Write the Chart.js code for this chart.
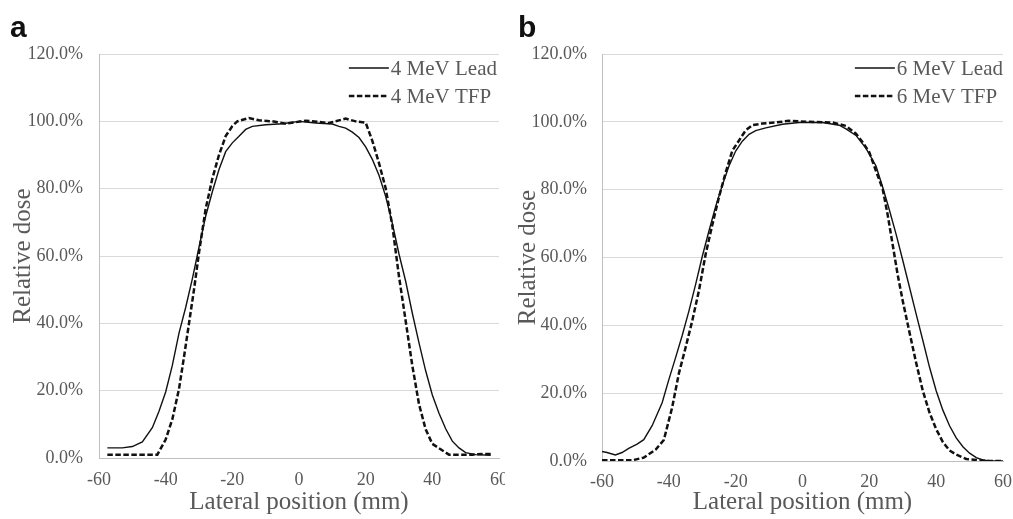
<!DOCTYPE html>
<html>
<head>
<meta charset="utf-8">
<title>Lateral dose profiles</title>
<script src="https://cdn.jsdelivr.net/npm/chart.js@4.4.0/dist/chart.umd.min.js"></script>
<style>
  body { margin: 0; background: #fff; width: 1013px; height: 519px; overflow: hidden; position: relative; }
  #panel_a { position: absolute; left: 0; top: 0; width: 519px; height: 519px; }
  #panel_b { position: absolute; left: 505px; top: 0; width: 517px; height: 519px; background: #fff; z-index: 1; }
</style>
</head>
<body>
<div id="panel_a"><canvas id="chart_a" width="519" height="519"></canvas></div>
<div id="panel_b"><canvas id="chart_b" width="517" height="519"></canvas></div>

<script>
// values (x in mm, y in % of max dose)
const xTicks = [-60, -40, -20, 0, 20, 40, 60];
const yTicks = [0, 20, 40, 60, 80, 100, 120];

const lead4X = [-57.5, -53, -50, -47, -44, -42, -40, -38, -36, -34, -32, -30, -28, -26, -24, -22, -20, -18, -16, -14, -10, -5, 0, 5, 10, 12, 14, 16, 18, 20, 22, 24, 26, 28, 30, 32, 34, 36, 38, 40, 42, 44, 46, 48, 50, 53, 57.5];
const lead4Y = [3.0, 3.0, 3.4, 4.8, 9.0, 13.9, 19.6, 27.5, 37.1, 44.7, 53.2, 62.6, 71.8, 79.1, 85.7, 91.0, 93.6, 95.6, 97.6, 98.5, 99.0, 99.3, 100, 99.5, 99.2, 98.5, 98.0, 96.8, 95.2, 92.4, 88.7, 84.0, 77.7, 69.7, 60.6, 52.5, 43.0, 34.2, 25.9, 18.7, 13.3, 8.7, 5.0, 3.0, 1.6, 1.0, 0.8];

const tfp4X = [-57.5, -42.5, -40, -38, -36, -34.5, -33, -31.5, -30, -28, -26, -24, -22, -20, -18.5, -15, -12, -8, -4, 2, 9, 14, 17, 20, 22, 24, 26, 28, 30, 32, 34, 36, 38, 40, 42, 45, 52, 55, 57.5];
const tfp4Y = [1.0, 1.0, 5.5, 11.5, 20.5, 30.0, 40.0, 50.0, 61.0, 74.0, 83.0, 90.0, 95.6, 98.6, 100, 101, 100.3, 100, 99.3, 100.2, 99.5, 100.8, 100, 99.6, 94.2, 87.6, 80.1, 69.0, 53.9, 40.7, 27.4, 16.0, 8.5, 4.2, 2.9, 1.0, 1.0, 1.2, 1.2];

const lead6X = [-60, -58.5, -56, -54, -52, -49.5, -47.5, -45, -42, -40, -38, -36, -34, -32, -30, -28, -26, -24, -22, -20, -18, -16, -14, -11, -6, -1, 6, 11, 13, 16, 19, 22, 24, 26, 28, 30, 32, 34, 36, 38, 40, 42, 44, 46, 48, 50, 52, 54, 56, 60];
const lead6Y = [2.8, 2.5, 1.8, 2.5, 3.7, 5.0, 6.3, 10.4, 17.2, 24.0, 30.4, 37.0, 44.2, 52.0, 60.3, 67.8, 75.0, 81.3, 87.0, 91.4, 94.3, 96.3, 97.4, 98.2, 99.3, 99.8, 99.8, 99.0, 97.9, 96.0, 92.2, 87.0, 80.7, 74.0, 66.9, 59.2, 51.3, 43.4, 35.6, 27.7, 20.7, 15.0, 10.4, 6.8, 4.2, 2.3, 1.0, 0.3, 0, 0];

const tfp6X = [-60, -51, -47.5, -44, -41.5, -39, -37, -35, -33, -31, -29, -27, -25, -23, -21, -19, -17, -15, -12, -8, -4, 2, 9, 13, 16, 18, 20, 22, 24, 25.5, 27, 28.5, 30, 32, 34, 36, 38, 40, 42, 44, 46, 49, 53, 56, 60];
const tfp6Y = [0.2, 0.2, 1.0, 3.3, 6.2, 15.8, 25.8, 33.4, 41.3, 50.2, 60.9, 69.6, 77.8, 85.0, 91.5, 94.5, 97.5, 99.0, 99.5, 99.8, 100.3, 100, 99.8, 98.8, 96.5, 94.0, 91.0, 85.5, 80.2, 72.5, 63.7, 54.8, 47.2, 38.0, 29.0, 20.7, 14.3, 9.4, 5.6, 3.1, 1.9, 0.6, 0.2, 0, 0];

const serif = '"Liberation Serif", "Times New Roman", serif';
const textGray = '#595959';

function toPoints(xs, ys) {
  return xs.map((x, i) => ({ x: x, y: ys[i] }));
}

// legend in the top right corner of the plot, like the excel one
const cornerLegend = {
  id: 'cornerLegend',
  afterDatasetsDraw(chart, args, opts) {
    const { ctx, chartArea } = chart;
    ctx.save();
    ctx.font = '21px ' + serif;
    const sets = chart.data.datasets;
    const maxW = Math.max(...sets.map(d => ctx.measureText(d.label).width));
    const textX = chartArea.right - opts.rightGap - maxW;
    sets.forEach((d, i) => {
      const y = chartArea.top + 14 + i * 28;
      ctx.strokeStyle = d.borderColor;
      ctx.lineWidth = d.borderWidth;
      ctx.setLineDash(d.borderDash || []);
      ctx.beginPath();
      ctx.moveTo(textX - 42, y);
      ctx.lineTo(textX - 2, y);
      ctx.stroke();
      ctx.setLineDash([]);
      ctx.fillStyle = textGray;
      ctx.textBaseline = 'middle';
      ctx.textAlign = 'left';
      ctx.fillText(d.label, textX, y + 1);
    });
    ctx.restore();
  }
};

// the bold panel letter (a / b)
const panelLetter = {
  id: 'panelLetter',
  afterDraw(chart, args, opts) {
    const ctx = chart.ctx;
    ctx.save();
    ctx.font = 'bold 30px "Liberation Sans", Arial, sans-serif';
    ctx.fillStyle = '#111';
    ctx.textBaseline = 'alphabetic';
    ctx.fillText(opts.text, opts.x, 37);
    ctx.restore();
  }
};

function makeChart(canvasId, cfg) {
  const ctx = document.getElementById(canvasId);
  return new Chart(ctx, {
    type: 'scatter',
    data: {
      datasets: [
        {
          label: cfg.leadLabel,
          data: toPoints(cfg.leadX, cfg.leadY),
          showLine: true,
          borderColor: '#111',
          borderWidth: 1.4,
          pointRadius: 0,
          tension: 0
        },
        {
          label: cfg.tfpLabel,
          data: toPoints(cfg.tfpX, cfg.tfpY),
          showLine: true,
          borderColor: '#111',
          borderWidth: 2.5,
          borderDash: [5.5, 2.5],
          pointRadius: 0,
          tension: 0
        }
      ]
    },
    options: {
      responsive: false,
      animation: false,
      devicePixelRatio: 1,
      layout: { padding: { left: 0, right: 0, top: 54, bottom: 0 } },
      plugins: {
        legend: { display: false },
        tooltip: { enabled: false },
        cornerLegend: { rightGap: cfg.legendGap },
        panelLetter: { text: cfg.letter, x: cfg.letterX }
      },
      scales: {
        x: {
          type: 'linear',
          min: -60,
          max: 60,
          afterBuildTicks: s => { s.ticks = xTicks.map(v => ({ value: v })); },
          afterFit: s => { s.height = cfg.xHeight; },
          grid: { display: false, drawTicks: false },
          border: { display: true, color: '#bfbfbf', width: 1 },
          ticks: {
            padding: cfg.xPad,
            color: textGray,
            font: { family: serif, size: 18 },
            maxRotation: 0,
            autoSkip: false,
            callback: v => String(v)
          },
          title: {
            display: true,
            text: 'Lateral position (mm)',
            color: textGray,
            font: { family: serif, size: 25 },
            padding: { top: 0, bottom: 2 }
          }
        },
        y: {
          type: 'linear',
          min: 0,
          max: 120,
          afterBuildTicks: s => { s.ticks = yTicks.map(v => ({ value: v })); },
          afterFit: s => { s.width = cfg.yWidth; },
          grid: { color: '#d9d9d9', lineWidth: 1, drawTicks: false },
          border: { display: true, color: '#bfbfbf', width: 1 },
          ticks: {
            padding: cfg.yPad,
            color: textGray,
            font: { family: serif, size: 18 },
            callback: v => v.toFixed(1) + '%'
          },
          title: {
            display: true,
            text: 'Relative dose',
            color: textGray,
            font: { family: serif, size: 25 },
            padding: { top: 8, bottom: 0 }
          }
        }
      }
    },
    plugins: [cornerLegend, panelLetter]
  });
}

makeChart('chart_a', {
  leadLabel: '4 MeV Lead', tfpLabel: '4 MeV TFP',
  leadX: lead4X, leadY: lead4Y, tfpX: tfp4X, tfpY: tfp4Y,
  yWidth: 99, xHeight: 61, xPad: 11, yPad: 16,
  legendGap: 2, letter: 'a', letterX: 10
});

makeChart('chart_b', {
  leadLabel: '6 MeV Lead', tfpLabel: '6 MeV TFP',
  leadX: lead6X, leadY: lead6Y, tfpX: tfp6X, tfpY: tfp6Y,
  yWidth: 97, xHeight: 58, xPad: 10, yPad: 15,
  legendGap: 0, letter: 'b', letterX: 13
});
</script>
</body>
</html>
